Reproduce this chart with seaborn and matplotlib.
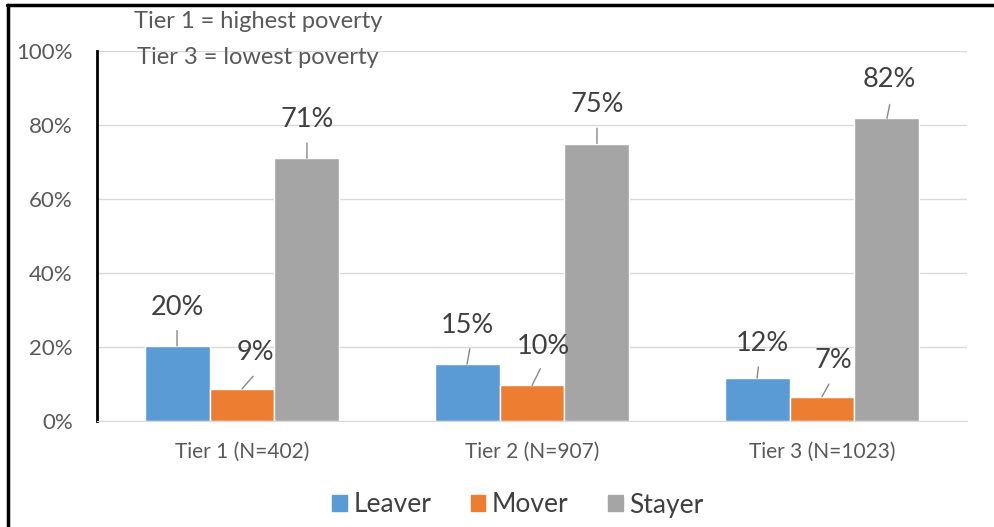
import numpy as np
import pandas as pd
import matplotlib
matplotlib.use("Agg")
import matplotlib.pyplot as plt
from matplotlib.lines import Line2D
import seaborn as sns

tiers = ["Tier 1 (N=402)", "Tier 2 (N=907)", "Tier 3 (N=1023)"]
groups = ["Leaver", "Mover", "Stayer"]
leaver = [20.3, 15.4, 11.6]
mover = [8.7, 9.6, 6.6]
stayer = [71.0, 75.0, 81.8]
colors = ["#5B9BD5", "#ED7D31", "#A5A5A5"]

df = pd.DataFrame({
    "tier": tiers * 3,
    "group": [g for g in groups for _ in tiers],
    "value": leaver + mover + stayer,
})

sns.set_style("white")
plt.rcParams["font.family"] = ["Lato", "DejaVu Sans"]

fig = plt.figure(figsize=(9.95, 5.27), dpi=100)
ax = fig.add_axes([97 / 995, 1 - 421 / 527, 870 / 995, 370 / 527])

sns.barplot(data=df, x="tier", y="value", hue="group", palette=colors,
            width=0.672, saturation=1, ax=ax, legend=False)

ax.set_ylim(0, 100)
ax.set_xlim(-0.5, 2.5)
ax.set_yticks(np.arange(0, 101, 20))
ax.set_yticklabels([f"{v}%" for v in range(0, 101, 20)], fontsize=16, color="#595959")
ax.tick_params(axis="x", labelsize=15, colors="#595959", length=0, pad=15)
ax.tick_params(axis="y", length=0, pad=17.5)
ax.yaxis.grid(True, color="#d9d9d9", lw=1)
ax.set_axisbelow(True)
ax.set_xlabel("")
ax.set_ylabel("")
for s in ["top", "right"]:
    ax.spines[s].set_visible(False)
ax.spines["bottom"].set_color("#d9d9d9")
ax.spines["left"].set_color("black")
ax.spines["left"].set_linewidth(2)

# leader-line offsets (points): (line end dx, dy, text dx, dy)
offsets = {
    "Leaver": [(0, 11, 0, 19), (2, 11, 0, 19), (1, 8, 4, 16)],
    "Mover": [(8, 9, 10, 17), (6, 12, 8, 19), (5, 9, 8, 17)],
    "Stayer": [(0, 11, 0, 19), (0, 11, 0, 19), (2, 10, 2, 19)],
}
for cont, g in zip(ax.containers, groups):
    for i, bar in enumerate(cont):
        x = bar.get_x() + bar.get_width() / 2
        y = bar.get_height()
        lx, ly, tx, ty = offsets[g][i]
        ax.annotate("", xy=(x, y), xytext=(lx, ly), textcoords="offset points",
                    arrowprops=dict(arrowstyle="-", color="#888888", lw=1,
                                    shrinkA=0, shrinkB=0))
        ax.annotate(f"{round(y):.0f}%", xy=(x, y), xytext=(tx, ty),
                    textcoords="offset points", ha="center", va="bottom",
                    fontsize=19.5, color="#404040")

fig.text(258 / 995, 1 - 22 / 527, "Tier 1 = highest poverty", ha="center", va="center",
         fontsize=17, color="#595959")
fig.text(258 / 995, 1 - 58 / 527, "Tier 3 = lowest poverty", ha="center", va="center",
         fontsize=17, color="#595959")

handles = [plt.Rectangle((0, 0), 1, 1, color=c) for c in colors]
fig.legend(handles, groups, loc="center", bbox_to_anchor=(518 / 995, 1 - 505 / 527),
           ncol=3, frameon=False, fontsize=19, handlelength=0.55, handleheight=0.55,
           handletextpad=0.25, columnspacing=1.5, labelcolor="#404040")

fig.add_artist(Line2D([7 / 995, 1], [1 - 5 / 527] * 2, color="black", lw=2.5,
                      transform=fig.transFigure))
fig.add_artist(Line2D([8 / 995] * 2, [0, 1 - 5 / 527], color="black", lw=2.5,
                      transform=fig.transFigure))

fig.savefig("out.png", dpi=100)
